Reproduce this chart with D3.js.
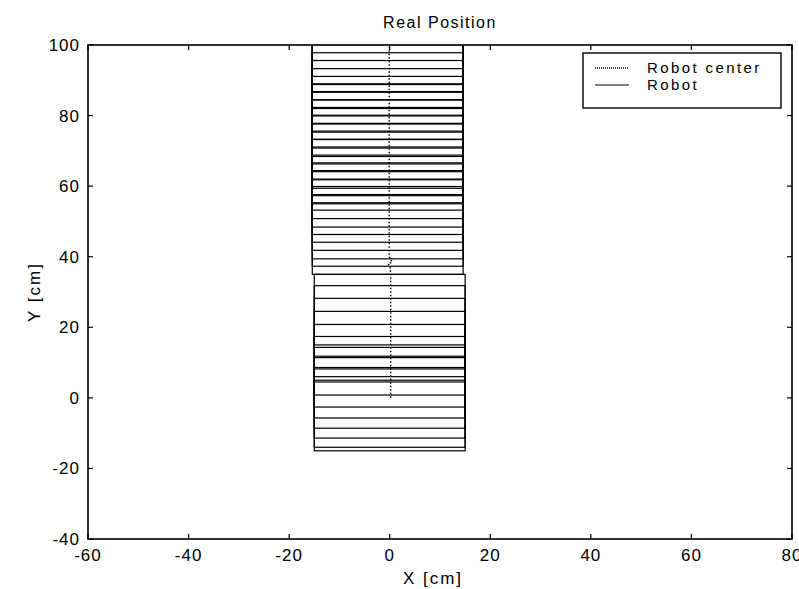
<!DOCTYPE html>
<html>
<head>
<meta charset="utf-8">
<script src="https://cdn.jsdelivr.net/npm/d3@7"></script>
<style>
  body { margin: 0; background: #fff; }
  text { font-family: "Liberation Sans", Arial, sans-serif; fill: #000; }
</style>
</head>
<body>
<div id="chart"></div>
<script>
// robot body poses (center of the 30 x 20 cm outline), first run
var poseAX = [0, 0, 0, 0, 0, 0, 0, 0, 0, 0, 0];
var poseAY = [-5, -4, -1.4, 1.4, 4.3, 7.4, 10.8, 14.5, 18.2, 21.8, 25];
// second run, slightly shifted to the left
var poseBX = [-0.4, -0.4, -0.4, -0.4, -0.4, -0.4, -0.4, -0.4, -0.4, -0.4, -0.4, -0.4, -0.4,
              -0.4, -0.4, -0.4, -0.4, -0.4, -0.4, -0.4, -0.4, -0.4, -0.4, -0.4, -0.4];
var poseBY = [45, 47.3, 49.4, 51.8, 54.1, 56.3, 58.4, 60.8, 63.2, 65.3, 67.6, 69.9, 72,
              74.4, 76.6, 78.8, 81.1, 83.3, 85.6, 87.8, 90.1, 92.3, 94.5, 96.8, 99];
// robot center track
var centerX = [0.2, 0.2, 0.2, 0.1, -0.3, 0.5, -0.1, -0.1];
var centerY = [0, 20, 35, 37, 38, 38.5, 40, 100];

var robotW = 30, robotL = 20;
var xTicks = [-60, -40, -20, 0, 20, 40, 60, 80];
var yTicks = [-40, -20, 0, 20, 40, 60, 80, 100];

var W = 799, H = 589;
var L = 88, R = 792, T = 45, B = 539;

var svg = d3.select("#chart").append("svg").attr("width", W).attr("height", H);

var x = d3.scaleLinear().domain([-60, 80]).range([L, R]);
var y = d3.scaleLinear().domain([-40, 100]).range([B, T]);

svg.append("clipPath").attr("id", "clip")
  .append("rect").attr("x", L).attr("y", T).attr("width", R - L).attr("height", B - T);

var plot = svg.append("g").attr("clip-path", "url(#clip)");

var poses = [];
poseAX.forEach(function (d, i) { poses.push([d, poseAY[i]]); });
poseBX.forEach(function (d, i) { poses.push([d, poseBY[i]]); });

plot.selectAll("rect.robot")
  .data(poses)
  .enter().append("rect")
    .attr("class", "robot")
    .attr("x", function (d) { return x(d[0] - robotW / 2); })
    .attr("y", function (d) { return y(d[1] + robotL / 2); })
    .attr("width", function (d) { return x(d[0] + robotW / 2) - x(d[0] - robotW / 2); })
    .attr("height", function (d) { return y(d[1] - robotL / 2) - y(d[1] + robotL / 2); })
    .attr("fill", "none")
    .attr("stroke", "#000")
    .attr("stroke-width", 1.2);

var line = d3.line().x(function (d) { return x(d[0]); }).y(function (d) { return y(d[1]); });
plot.append("path")
  .datum(centerX.map(function (d, i) { return [d, centerY[i]]; }))
  .attr("d", line)
  .attr("fill", "none")
  .attr("stroke", "#000")
  .attr("stroke-width", 1.4)
  .attr("stroke-dasharray", "1.5,2");

// axes box
var axes = svg.append("g");
axes.append("rect")
  .attr("x", L).attr("y", T).attr("width", R - L).attr("height", B - T)
  .attr("fill", "none").attr("stroke", "#000").attr("stroke-width", 1.6);

var tl = 5;
xTicks.forEach(function (t) {
  axes.append("line").attr("x1", x(t)).attr("x2", x(t)).attr("y1", B).attr("y2", B - tl)
    .attr("stroke", "#000").attr("stroke-width", 1.2);
  axes.append("line").attr("x1", x(t)).attr("x2", x(t)).attr("y1", T).attr("y2", T + tl)
    .attr("stroke", "#000").attr("stroke-width", 1.2);
});
yTicks.forEach(function (t) {
  axes.append("line").attr("x1", L).attr("x2", L + tl).attr("y1", y(t)).attr("y2", y(t))
    .attr("stroke", "#000").attr("stroke-width", 1.2);
  axes.append("line").attr("x1", R).attr("x2", R - tl).attr("y1", y(t)).attr("y2", y(t))
    .attr("stroke", "#000").attr("stroke-width", 1.2);
});

axes.selectAll("text.xt").data(xTicks).enter().append("text")
  .attr("x", function (d) { return x(d); })
  .attr("y", 561)
  .attr("text-anchor", "middle")
  .style("font-size", "17px")
  .style("letter-spacing", "1px")
  .text(function (d) { return d; });

axes.selectAll("text.yt").data(yTicks).enter().append("text")
  .attr("x", 80)
  .attr("y", function (d) { return y(d) + 6; })
  .attr("text-anchor", "end")
  .style("font-size", "17px")
  .style("letter-spacing", "1px")
  .text(function (d) { return d; });

svg.append("text").attr("x", 440).attr("y", 28).attr("text-anchor", "middle")
  .style("font-size", "16px").style("letter-spacing", "1.5px").text("Real Position");
svg.append("text").attr("x", 433).attr("y", 584).attr("text-anchor", "middle")
  .style("font-size", "17px").style("letter-spacing", "2px").text("X [cm]");
svg.append("text").attr("transform", "translate(40,292) rotate(-90)").attr("text-anchor", "middle")
  .style("font-size", "17px").style("letter-spacing", "2px").text("Y [cm]");

// legend
var lg = svg.append("g");
lg.append("rect").attr("x", 583).attr("y", 53).attr("width", 198).attr("height", 55)
  .attr("fill", "#fff").attr("stroke", "#000").attr("stroke-width", 1.4);
lg.append("line").attr("x1", 595).attr("x2", 629).attr("y1", 68).attr("y2", 68)
  .attr("stroke", "#000").attr("stroke-width", 1.3).attr("stroke-dasharray", "1,1");
lg.append("line").attr("x1", 595).attr("x2", 629).attr("y1", 85).attr("y2", 85)
  .attr("stroke", "#000").attr("stroke-width", 1);
lg.append("text").attr("x", 647).attr("y", 73).style("font-size", "15px")
  .style("letter-spacing", "2.4px").text("Robot center");
lg.append("text").attr("x", 647).attr("y", 90).style("font-size", "15px")
  .style("letter-spacing", "2.4px").text("Robot");
</script>
</body>
</html>
